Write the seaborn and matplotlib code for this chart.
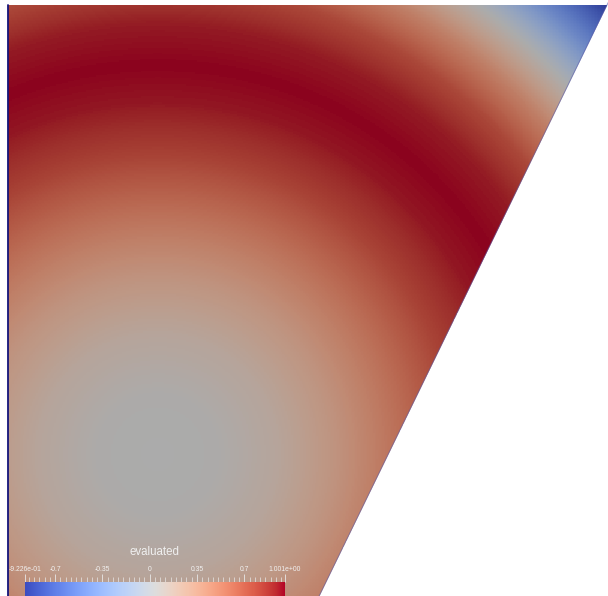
"""
ParaView 风格的标量场截图复刻：梯形区域上的 evaluated 场 + 底部色条
"""
import numpy as np
import pandas as pd
import matplotlib
matplotlib.use("Agg")
import matplotlib.pyplot as plt
from matplotlib.colors import ListedColormap, Normalize
from matplotlib.cm import ScalarMappable
from matplotlib.ticker import MultipleLocator
import seaborn as sns

# 场的径向分布（从灰色中心算起的距离 -> 数值）
radius = [0.0, 0.1, 0.2, 0.3, 0.4, 0.5, 0.585, 0.65, 0.72, 0.785, 0.85, 0.923, 0.985, 1.061]
evaluated = [0.035, 0.05, 0.15, 0.33, 0.56, 0.80, 0.955, 1.001, 0.945, 0.77, 0.469, 0.02, -0.43, -0.9226]
centre = (0.25, 0.25)

# 梯形区域：左边 x=0，上边 y=1，斜边从 (1,1) 到 (0.513,0)
slant_top = (1.0, 1.0)
slant_bottom = (0.513, 0.0)

vmin, vmax = -0.9226, 1.001
tick_values = [-0.9226, -0.7, -0.35, 0, 0.35, 0.7, 1.001]
tick_labels = ['-9.226e-01', '-0.7', '-0.35', '0', '0.35', '0.7', '1.001e+00']

sns.set_style("white")
plt.rcParams['font.family'] = ['Liberation Sans', 'DejaVu Sans']

W, H = 608, 596
PX = 599.0          # 每单位长度的像素
X0, YTOP = 8, 5     # 区域左边、上边的像素位置

fig = plt.figure(figsize=(W / 100, H / 100), dpi=100)
ax = fig.add_axes([0, 0, 1, 1])

# 网格（行从上到下）
n = 400
xc = (np.arange(n) + 0.5) / n
yc = 1 - (np.arange(n) + 0.5) / n
gx, gy = np.meshgrid(xc, yc)
dist = np.hypot(gx - centre[0], gy - centre[1])
field = np.interp(dist, radius, evaluated)
slope = (slant_top[0] - slant_bottom[0]) / (slant_top[1] - slant_bottom[1])
inside = gx <= slant_top[0] - slope * (slant_top[1] - gy) + 1.0 / n
df = pd.DataFrame(field)

# 带光照的暗化 coolwarm
lit = plt.get_cmap('coolwarm')(np.linspace(0, 1, 256))
lit[:, :3] *= 0.775
lit_cmap = ListedColormap(lit)

sns.heatmap(df, mask=~inside, cmap=lit_cmap, vmin=vmin, vmax=vmax, cbar=False,
            xticklabels=False, yticklabels=False, ax=ax)

# 斜边：白色覆盖 + 细线
big = 0.3 * n
ys = np.array([-big, n + big])
xs = n - slope * ys
ax.fill([xs[0], 3 * n, 3 * n, xs[1]], [ys[0], ys[0], ys[1], ys[1]],
        color='white', zorder=3, lw=0)
ax.plot(xs, ys, color='#5a5aa8', lw=0.7, alpha=0.6, zorder=4)
ax.plot([0, 0], [0, 2 * n], color='#14147a', lw=1.3, zorder=4)

ax.set_xlim(-X0 / PX * n, (W - X0) / PX * n)
ax.set_ylim((H - YTOP) / PX * n, -YTOP / PX * n)
ax.axis('off')

# 色条
cax = fig.add_axes([25 / W, 0, 260 / W, 14 / H])
cbar = fig.colorbar(ScalarMappable(norm=Normalize(vmin, vmax), cmap='coolwarm'),
                    cax=cax, orientation='horizontal')
cbar.outline.set_visible(False)
cbar.set_ticks(tick_values, labels=tick_labels)
cax.xaxis.set_minor_locator(MultipleLocator(0.35 / 9))
cax.xaxis.set_ticks_position('top')
cax.xaxis.set_label_position('top')
cax.tick_params(which='major', length=6, width=0.6, color='#e8e8e8',
                labelsize=4.9, labelcolor='#f2f2f2', pad=0.3)
cax.tick_params(which='minor', length=3.5, width=0.5, color='#e8e8e8')

fig.text(155 / W, 1 - 552 / H, 'evaluated', ha='center', va='center',
         fontsize=8.3, color='#f0f0f0')

fig.savefig('out.png', dpi=100)
plt.close(fig)
